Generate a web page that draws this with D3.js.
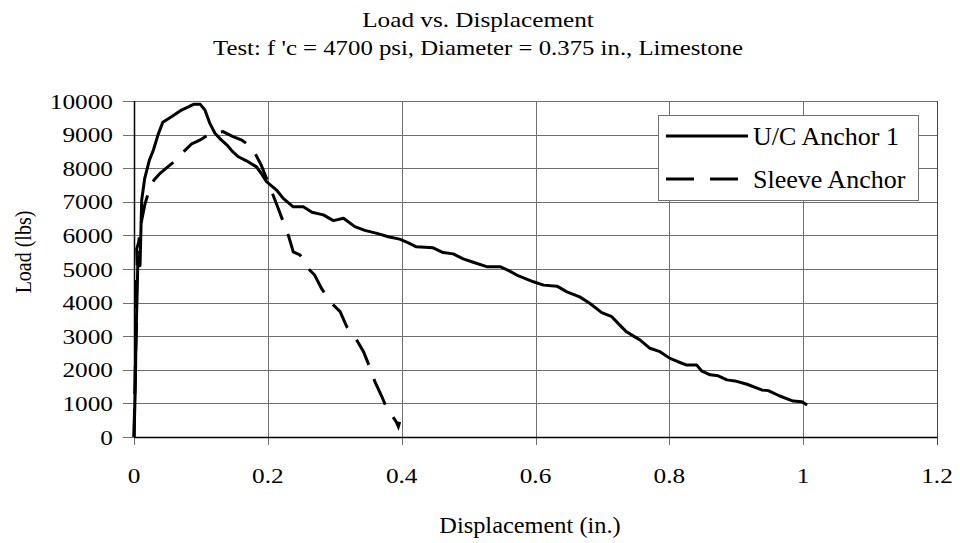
<!DOCTYPE html>
<html>
<head>
<meta charset="utf-8">
<script src="https://cdn.jsdelivr.net/npm/d3@7"></script>
<style>
body { margin:0; background:#fff; }
text { font-family: "Liberation Serif", "Times New Roman", serif; fill:#000; }
</style>
</head>
<body>
<script>
var titleLines = ["Load vs. Displacement", "Test: f 'c = 4700 psi, Diameter = 0.375 in., Limestone"];
var seriesNames = ["U/C Anchor 1", "Sleeve Anchor"];
var xTicks = [0, 0.2, 0.4, 0.6, 0.8, 1, 1.2];
var yTicks = [0,1000,2000,3000,4000,5000,6000,7000,8000,9000,10000];

var ucDisp = [0,0.002,0.003,0.005,0.006,0.009,0.0115,0.016,0.023,0.029,0.036,0.043,0.056,0.071,0.082,0.089,0.099,0.106,0.113,0.121,0.130,0.139,0.147,0.156,0.168,0.183,0.190,0.198,0.213,0.223,0.238,0.253,0.266,0.283,0.298,0.313,0.330,0.345,0.363,0.380,0.397,0.410,0.422,0.447,0.462,0.477,0.492,0.507,0.527,0.547,0.560,0.572,0.597,0.612,0.632,0.647,0.666,0.681,0.699,0.714,0.726,0.736,0.746,0.756,0.771,0.786,0.801,0.813,0.826,0.841,0.848,0.861,0.873,0.886,0.898,0.916,0.938,0.948,0.965,0.985,0.998,1.006];
var ucLoad = [0,1500,3000,4500,5500,5100,7050,7700,8240,8540,9000,9370,9530,9730,9830,9900,9900,9730,9350,9040,8850,8690,8500,8340,8220,8040,7850,7600,7350,7100,6850,6850,6690,6610,6440,6510,6260,6150,6060,5960,5890,5780,5660,5630,5490,5450,5300,5200,5070,5070,4950,4820,4620,4520,4490,4320,4170,3980,3700,3580,3330,3130,3010,2890,2640,2540,2340,2240,2140,2140,1970,1850,1820,1700,1670,1570,1400,1380,1220,1070,1050,950];

var sleeveDisp = [0,0.002,0.004,0.003,0.005,0.004,0.007,0.010,0.016,0.024,0.030,0.039,0.054,0.064,0.074,0.086,0.099,0.109,0.121,0.133,0.148,0.161,0.176,0.190,0.203,0.216,0.231,0.238,0.248,0.260,0.270,0.280,0.293,0.308,0.318,0.330,0.343,0.353,0.360,0.370,0.380,0.387,0.392,0.395,0.397];
var sleeveLoad = [0,2200,3500,4500,5000,5600,5800,6300,6900,7450,7650,7850,8100,8250,8490,8720,8840,8970,9050,9090,8940,8840,8620,8100,7450,6780,5980,5510,5420,5020,4820,4430,4030,3730,3280,2980,2540,2040,1650,1220,750,600,450,310,450];

var W = 960, H = 543;
var m = {left:134, right:937, top:101, bottom:437};

var svg = d3.select("body").append("svg").attr("width",W).attr("height",H);

var x = d3.scaleLinear().domain([0,1.2]).range([m.left,m.right]);
var y = d3.scaleLinear().domain([0,10000]).range([m.bottom,m.top]);

// text that is a bit wider than the font, like the picture
function wideText(g, str, tx, ty, size, sx, anchor) {
  return g.append("text").text(str)
      .attr("transform","translate("+tx+","+ty+") scale("+sx+",1)")
      .attr("text-anchor",anchor)
      .attr("font-size",size);
}

// gridlines
svg.append("g").selectAll("line")
      .data(yTicks)
      .enter().append("line")
      .attr("x1",m.left-11).attr("x2",m.right)
      .attr("y1",function(d){return Math.round(y(d))+0.5;})
      .attr("y2",function(d){return Math.round(y(d))+0.5;})
      .attr("stroke","#707070").attr("stroke-width",1);

svg.append("g").selectAll("line")
      .data(xTicks)
      .enter().append("line")
      .attr("x1",function(d){return Math.round(x(d))+0.5;})
      .attr("x2",function(d){return Math.round(x(d))+0.5;})
      .attr("y1",m.top).attr("y2",m.bottom+8)
      .attr("stroke",function(d){return d==1.2 ? "#444" : "#707070";})
      .attr("stroke-width",1);

// axes
svg.append("line").attr("x1",m.left+0.5).attr("x2",m.left+0.5).attr("y1",m.top).attr("y2",m.bottom)
      .attr("stroke","#000").attr("stroke-width",1.5);
svg.append("line").attr("x1",m.left).attr("x2",m.right).attr("y1",m.bottom+0.5).attr("y2",m.bottom+0.5)
      .attr("stroke","#000").attr("stroke-width",1.5);

// tick labels
var yl = svg.append("g");
yTicks.forEach(function(d){ wideText(yl, d, 113, y(d)+7.5, 22, 1.15, "end"); });
var xl = svg.append("g");
xTicks.forEach(function(d){ wideText(xl, d, x(d), 483, 22, 1.15, "middle"); });

// titles
wideText(svg, titleLines[0], 478, 27, 21, 1.2, "middle");
wideText(svg, titleLines[1], 478, 55, 21, 1.18, "middle");
wideText(svg, "Displacement (in.)", 530, 533, 23, 1.06, "middle");

svg.append("text").text("Load (lbs)")
      .attr("transform","translate(23,252) scale(1.2,1) rotate(-90)")
      .attr("dy","0.35em")
      .attr("text-anchor","middle").attr("font-size",20);

// series
var line = d3.line().x(function(d){return x(d[0]);}).y(function(d){return y(d[1]);});
var ucData = d3.zip(ucDisp,ucLoad);
var sleeveData = d3.zip(sleeveDisp,sleeveLoad);

svg.append("path").datum(sleeveData)
      .attr("d",line).attr("fill","none")
      .attr("stroke","#000").attr("stroke-width",3)
      .attr("stroke-dasharray","28,15");

svg.append("path").datum(ucData)
      .attr("d",line).attr("fill","none")
      .attr("stroke","#000").attr("stroke-width",3)
      .attr("stroke-linejoin","round");

// legend
var leg = svg.append("g");
leg.append("rect").attr("x",658.5).attr("y",115.5).attr("width",260).attr("height",85)
      .attr("fill","#fff").attr("stroke","#707070").attr("stroke-width",1);
leg.selectAll("line")
      .data(seriesNames)
      .enter().append("line")
      .attr("x1",666).attr("x2",748)
      .attr("y1",function(d,i){return 136+43*i;})
      .attr("y2",function(d,i){return 136+43*i;})
      .attr("stroke","#000").attr("stroke-width",3)
      .attr("stroke-dasharray",function(d,i){return i==1 ? "28,16" : null;});
leg.selectAll("text")
      .data(seriesNames)
      .enter().append("text")
      .attr("x",753)
      .attr("y",function(d,i){return 145+43*i;})
      .attr("font-size",26)
      .text(function(d){return d;});
</script>
</body>
</html>
